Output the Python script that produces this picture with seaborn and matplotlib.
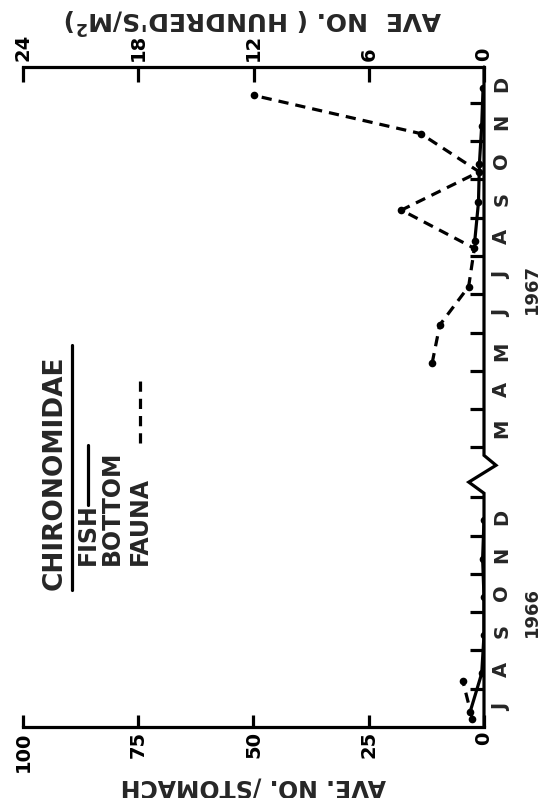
import numpy as np
import pandas as pd
import matplotlib
matplotlib.use("Agg")
import matplotlib.pyplot as plt
import matplotlib.transforms as mtransforms
import seaborn as sns

# ---- data ---------------------------------------------------------------
months_1966 = ["J", "A", "S", "O", "N", "D"]                      # Jul-Dec 1966
months_1967 = ["M", "A", "M", "J", "J", "A", "S", "O", "N", "D"]  # Mar-Dec 1967

# Chironomidae eaten by fish (ave. no. per stomach)
fish_1966_month = [0, 1, 2, 3, 4, 5]
fish_1966 = [3.0, 0.5, 0.0, 0.0, 0.3, 0.0]
fish_1967_month = [5, 6, 7, 8, 9]
fish_1967 = [2.0, 1.2, 1.0, 0.5, 0.2]

# Chironomidae in the bottom fauna (hundreds per m^2)
fauna_1966_month = [0, 1]
fauna_1966 = [0.6, 1.1]
fauna_1967_month = [2, 3, 4, 5, 6, 7, 8, 9]
fauna_1967 = [2.7, 2.3, 0.8, 0.5, 4.3, 0.25, 3.3, 12.0]

stomach_ticks = [0, 25, 50, 75, 100]
fauna_ticks = [0, 6, 12, 18, 24]

# ---- layout helpers -------------------------------------------------------
MARCH_1967 = 7.31   # axis position where Mar 1967 begins (Jan-Feb squeezed into the break)
TOP = 17.25
FISH_DAY = 0.4      # sampling point within the month
FAUNA_DAY = 0.2


def month_start(year, idx):
    return float(idx) if year == 1966 else MARCH_1967 + idx


def frame(values, months, year, day):
    return pd.DataFrame({"value": values,
                         "pos": [month_start(year, m) + day for m in months]})


sns.set_theme(style="white")
plt.rcParams["font.family"] = ["DejaVu Sans"]
plt.rcParams["font.weight"] = "bold"

W, H = 556, 798
fig = plt.figure(figsize=(W / 100, H / 100), dpi=100)
ax = fig.add_axes([23 / W, 71 / H, (484 - 23) / W, (727 - 67) / H])
ax2 = ax.twiny()

LW = 2.3
line_kw = dict(orient="y", sort=False, estimator=None, color="black",
               linewidth=LW, marker="o", markersize=5.5, markeredgewidth=0)

for vals, months, year in [(fish_1966, fish_1966_month, 1966),
                           (fish_1967, fish_1967_month, 1967)]:
    sns.lineplot(data=frame(vals, months, year, FISH_DAY), x="value", y="pos",
                 ax=ax, **line_kw)

for vals, months, year in [(fauna_1966, fauna_1966_month, 1966),
                           (fauna_1967, fauna_1967_month, 1967)]:
    sns.lineplot(data=frame(vals, months, year, FAUNA_DAY), x="value", y="pos",
                 ax=ax2, dashes=False, linestyle=(0, (3.2, 2.2)), **line_kw)

# ---- axes ---------------------------------------------------------------
ax.set_xlim(100, 0)
ax2.set_xlim(24, 0)
ax.set_ylim(0, TOP)

for a in (ax, ax2):
    for s in a.spines.values():
        s.set_visible(False)
ax.spines["bottom"].set_visible(True)
ax2.spines["top"].set_visible(True)
for s in (ax.spines["bottom"], ax2.spines["top"]):
    s.set_linewidth(LW)
    s.set_color("black")

tick_font = dict(fontsize=14, fontweight="bold", color="black")

ax.set_xticks(stomach_ticks)
ax.set_xticklabels([str(t) for t in stomach_ticks], rotation=90, **tick_font)
ax.tick_params(axis="x", direction="in", length=9, width=LW, color="black",
               pad=3, bottom=True)

ax2.set_xticks(fauna_ticks)
ax2.set_xticklabels([str(t) for t in fauna_ticks], rotation=90, **tick_font)
ax2.tick_params(axis="x", direction="in", length=11, width=LW, color="black",
                pad=4, top=True)

# month boundaries as ticks, month letters centred between them
bounds = [month_start(1966, i) for i in range(1, 7)] + \
         [month_start(1967, i) for i in range(0, 10)]
centres = [month_start(1966, i) + 0.5 for i in range(6)] + \
          [month_start(1967, i) + 0.5 for i in range(10)]
ax.yaxis.tick_right()
ax.set_yticks(bounds)
ax.set_yticklabels([])
ax.set_yticks(centres, minor=True)
ax.set_yticklabels(months_1966 + months_1967, minor=True, rotation=90,
                   fontsize=14, fontweight="bold", va="center")
ax.tick_params(axis="y", which="major", direction="in", length=10, width=LW,
               color="black", right=True, left=False)
ax.tick_params(axis="y", which="minor", length=0, pad=6, right=True, left=False)

ax.set_xlabel("AVE. NO. /STOMACH", rotation=180, fontsize=17,
              fontweight="bold", labelpad=2)
ax2.set_xlabel(r"AVE  NO. ( HUNDRED'S/M$^{\mathbf{2}}$)", rotation=180,
               fontsize=18, fontweight="bold", labelpad=3)
ax.set_ylabel("")
ax2.set_ylabel("")
ax.grid(False)
ax2.grid(False)

# month axis drawn with a break between the two seasons
bt = mtransforms.blended_transform_factory(ax.transAxes, ax.transData)
ax.plot([1, 1, 1.026, 0.967, 1, 1], [TOP, 7.1, 6.84, 6.40, 6.11, 0],
        transform=bt, color="black", lw=LW, clip_on=False,
        solid_joinstyle="miter")

ax.text(1.103, 3.0, "1966", transform=bt, rotation=90, ha="center",
        va="center", fontsize=13, fontweight="bold")
ax.text(1.103, 11.45, "1967", transform=bt, rotation=90, ha="center",
        va="center", fontsize=13, fontweight="bold")

# ---- key ----------------------------------------------------------------
def fx(px):
    return px / W


def fy(py):
    return 1 - py / H


fig.text(fx(55), fy(590), "CHIRONOMIDAE", rotation=90, ha="center",
         va="bottom", fontsize=19, fontweight="bold")
fig.add_artist(plt.Line2D([fx(72), fx(72)], [fy(590), fy(345)],
                          color="black", lw=LW))
fig.text(fx(88), fy(565), "FISH", rotation=90, ha="center", va="bottom",
         fontsize=17, fontweight="bold")
fig.add_artist(plt.Line2D([fx(88), fx(88)], [fy(505), fy(445)],
                          color="black", lw=LW))
fig.text(fx(112), fy(565), "BOTTOM", rotation=90, ha="center", va="bottom",
         fontsize=17, fontweight="bold")
fig.text(fx(140), fy(565), "FAUNA", rotation=90, ha="center", va="bottom",
         fontsize=17, fontweight="bold")
fig.add_artist(plt.Line2D([fx(140), fx(140)], [fy(443), fy(378)],
                          color="black", lw=LW, linestyle=(0, (3.2, 2.2))))

fig.savefig("out.png", dpi=100, facecolor="white")
